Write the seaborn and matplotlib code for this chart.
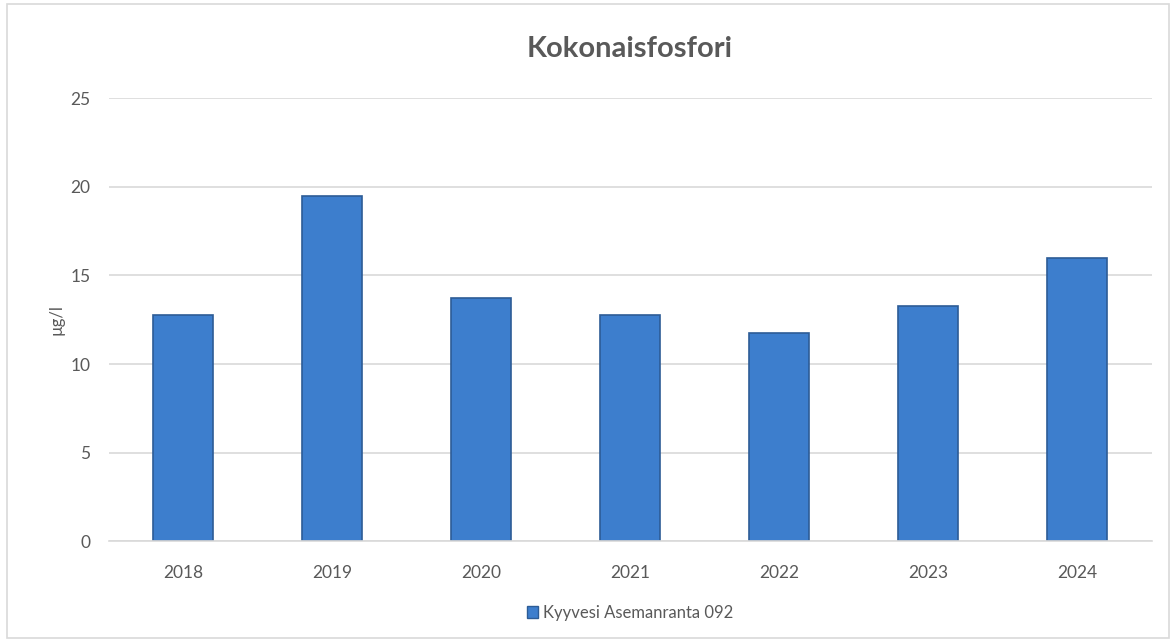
import matplotlib
matplotlib.use("Agg")
import matplotlib.pyplot as plt
import seaborn as sns
import pandas as pd
from matplotlib.patches import Rectangle

years = ["2018", "2019", "2020", "2021", "2022", "2023", "2024"]
values = [12.75, 19.5, 13.75, 12.75, 11.75, 13.25, 16.0]
series_name = "Kyyvesi Asemanranta 092"
title = "Kokonaisfosfori"
ylabel = "µg/l"
yticks = [0, 5, 10, 15, 20, 25]

sns.set_theme(style="white")
plt.rcParams['font.family'] = ['Lato', 'DejaVu Sans']

df = pd.DataFrame({"year": years, "value": values})

fig = plt.figure(figsize=(11.76, 6.42), dpi=100)
ax = fig.add_axes([0.0923, 0.157, 0.887, 0.690])

sns.barplot(data=df, x="year", y="value", ax=ax, width=0.40,
            color="#3D7ECD", edgecolor="#2D5C96", linewidth=1.2, saturation=1)

ax.set_ylim(0, 25)
ax.set_yticks(yticks)
ax.yaxis.grid(True, color="#D9D9D9", linewidth=1.2)
ax.set_axisbelow(True)
for s in ["top", "right", "left"]:
    ax.spines[s].set_visible(False)
ax.spines["bottom"].set_color("#D9D9D9")
ax.spines["bottom"].set_linewidth(1.2)
ax.tick_params(axis="x", length=0, labelsize=12.5, colors="#595959", pad=17)
ax.tick_params(axis="y", length=0, labelsize=12.5, colors="#595959", pad=13)
ax.set_xlabel("")
ax.set_ylabel(ylabel, fontsize=12, color="#595959", labelpad=4)
ax.set_title(title, fontsize=21, fontweight="bold", color="#595959", pad=30)

handle = Rectangle((0, 0), 1, 1, facecolor="#3D7ECD", edgecolor="#2D5C96")
ax.legend([handle], [series_name], loc="upper center", bbox_to_anchor=(0.5, -0.11),
          frameon=False, fontsize=12, labelcolor="#595959",
          handlelength=0.7, handleheight=0.7, handletextpad=0.3)

fig.patches.append(Rectangle((0.006, 0.006), 0.988, 0.988, transform=fig.transFigure,
                             fill=False, edgecolor="#D9D9D9", linewidth=1.2))

fig.savefig("out.png", dpi=100)
